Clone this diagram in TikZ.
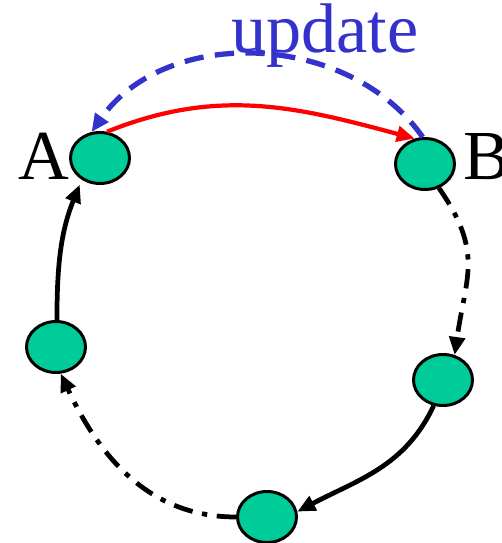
\documentclass[tikz,border=0pt]{standalone}
\usepackage{fontspec}
\setmainfont{Liberation Serif}
\usetikzlibrary{arrows.meta,shapes.geometric}
\definecolor{peer}{RGB}{0,204,153}
\definecolor{upd}{RGB}{51,51,204}

\begin{document}
\begin{tikzpicture}[x=0.02cm, y=-0.02cm,
  peernode/.style={draw, ellipse, fill=peer, line width=1.7pt, minimum width=1.18cm, minimum height=1.02cm, inner sep=0pt},
  lbl/.style={font=\fontsize{40}{40}\selectfont, inner sep=0pt},
  arr/.style={-{Triangle[length=3.6mm, width=3.1mm]}, line width=2.7pt},
  dashdot/.style={arr, dash pattern=on 11pt off 5.5pt on 3pt off 5.5pt}]
\useasboundingbox (0,0) rectangle (501,543);
\node[peernode] (a) at (100,158) {};
\node[peernode] (b) at (425,164) {};
\node[peernode] (r) at (443,380) {};
\node[peernode] (d) at (267,517) {};
\node[peernode] (l) at (56,347) {};
\node[lbl] (la) at (44,156) {A};
\node[lbl] (lb) at (487,157) {B};
\node[lbl, text=upd, anchor=base] (lupd) at (325,53) {update};
\draw[arr, red, line width=2.4pt] (a.75) to[out=22, in=165] (b.112);
\draw[arr, upd, line width=3pt, dash pattern=on 11pt off 6.5pt] (b.95) to[out=125, in=55] (a.108);
\draw[dashdot] (b.-60) to[out=-55, in=82, looseness=1.2] (r.65);
\draw[arr] (r.-110) to[out=-115, in=28] (d.10);
\draw[dashdot] (d.180) to[out=180, in=-65] (l.-80);
\draw[arr, shorten >=3pt] (l.88) to[out=90, in=-112] (a.230);
\end{tikzpicture}
\end{document}
